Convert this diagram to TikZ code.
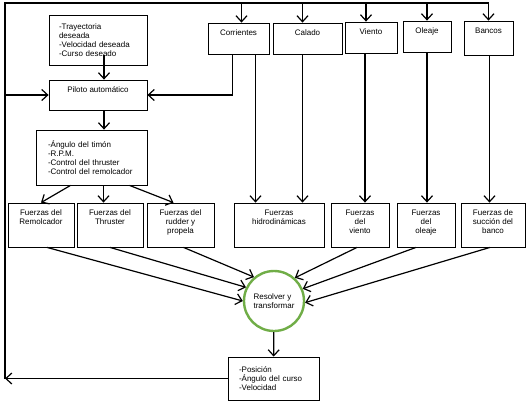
\documentclass[tikz,border=0pt]{standalone}
\usepackage{fontspec}
\setmainfont{Liberation Sans}
\usetikzlibrary{arrows.meta}
\definecolor{resgreen}{RGB}{112,173,71}

\begin{document}
\begin{tikzpicture}[x=1pt, y=-1pt,
    font=\fontsize{8}{9.2}\selectfont,
    >={Straight Barb[length=6pt,width=11pt]},
    line width=1.2pt,
    box/.style={draw, line width=0.8pt, inner sep=0pt},
    listbox/.style={box, align=left},
    inlbl/.style={anchor=north, align=center, inner sep=6.5pt}]
    \useasboundingbox (0,0) rectangle (530,402);

    % control side
    \node[listbox, text width=78pt, inner xsep=10pt, minimum height=50pt] (tray) at (98,40)
        {-Trayectoria\\deseada\\-Velocidad deseada\\-Curso deseado};
    \node[box, minimum width=98pt, minimum height=30pt, label={[inlbl]north:Piloto automático}] (pil) at (98,95) {};
    \node[listbox, text width=87pt, inner xsep=12pt, minimum height=55pt] (ang) at (91.5,157.5)
        {-Ángulo del timón\\-R.P.M.\\-Control del thruster\\-Control del remolcador};

    % environment
    \node[box, minimum width=61pt, minimum height=31pt, label={[inlbl]north:Corrientes}] (corr) at (238.5,38.5) {};
    \node[box, minimum width=69pt, minimum height=31pt, label={[inlbl]north:Calado}] (cal) at (307.5,38.5) {};
    \node[box, minimum width=52pt, minimum height=31pt, label={[inlbl]north:Viento}] (vie) at (371,37.5) {};
    \node[box, minimum width=48pt, minimum height=31pt, label={[inlbl]north:Oleaje}] (ole) at (427,36.5) {};
    \node[box, minimum width=49pt, minimum height=34pt, label={[inlbl]north:Bancos}] (ban) at (488.5,38) {};

    % forces
    \node[box, minimum width=66pt, minimum height=44pt, label={[inlbl]north:Fuerzas del\\Remolcador}] (frem) at (41,225) {};
    \node[box, minimum width=66pt, minimum height=44pt, label={[inlbl]north:Fuerzas del\\Thruster}] (fthr) at (110,225) {};
    \node[box, minimum width=67pt, minimum height=44pt, label={[inlbl]north:Fuerzas del\\rudder y\\propela}] (frud) at (180.5,225) {};
    \node[box, minimum width=90pt, minimum height=44pt, label={[inlbl]north:Fuerzas\\hidrodinámicas}] (fhid) at (279,225) {};
    \node[box, minimum width=58pt, minimum height=44pt, label={[inlbl]north:Fuerzas\\del\\viento}] (fvie) at (360,225) {};
    \node[box, minimum width=58pt, minimum height=44pt, label={[inlbl]north:Fuerzas\\del\\oleaje}] (fole) at (426,225) {};
    \node[box, minimum width=64pt, minimum height=44pt, label={[inlbl]north:Fuerzas de\\succión del\\banco}] (fban) at (493,225) {};

    \node[circle, draw=resgreen, line width=2.4pt, minimum size=60pt, inner sep=0pt, align=left] (res) at (274,301)
        {Resolver y\\transformar};
    \node[listbox, text width=69pt, inner xsep=11pt, minimum height=43pt] (out) at (273.5,378.5)
        {-Posición\\-Ángulo del curso\\-Velocidad};

    % feedback loop
    \coordinate (tl) at (5,3);
    \draw[->] (out.west) -- (out.west -| tl);
    \draw (out.west -| tl) -- (tl) -- (ban.north |- tl);
    \draw[->] (tl |- pil.west) -- (pil.west);
    \foreach \n/\s in {corr/3, cal/-5, vie/-5, ole/0, ban/0}
        \draw[->] ([xshift=\s pt]\n.north |- tl) -- ([xshift=\s pt]\n.north);

    \draw[->] ([xshift=6pt,yshift=10pt]tray.south) -- ([xshift=6pt]tray.south |- pil.north);
    \draw[->] ([xshift=6pt]pil.south) -- ([xshift=6pt]pil.south |- ang.north);
    \draw[->] ([xshift=-6pt]corr.south) |- (pil.east);

    \foreach \a/\b/\s in {corr/fhid/17, cal/fhid/-5, vie/fvie/-6, ole/fole/0, ban/fban/1}
        \draw[->] ([xshift=\s pt]\a.south) -- ([xshift=\s pt]\a.south |- \b.north);

    \draw[->] ([xshift=-21pt]ang.south) -- (frem.north);
    \draw[->] ([xshift=12pt]ang.south) -- ([xshift=12pt]ang.south |- fthr.north);
    \draw[->] ([xshift=38pt]ang.south) -- ([xshift=-7pt]frud.north);

    \draw[->] ([xshift=6pt]frem.south) -- (res.180);
    \draw[->] (fthr.south) -- (res.154);
    \draw[->] ([xshift=3pt]frud.south) -- (res.130);
    \draw[->] ([xshift=-3pt]fvie.south) -- (res.48);
    \draw[->] ([xshift=-10pt]fole.south) -- (res.23);
    \draw[->] ([xshift=-3pt]fban.south) -- (res.-3);
    \draw[->] (res) -- (out);
\end{tikzpicture}
\end{document}
